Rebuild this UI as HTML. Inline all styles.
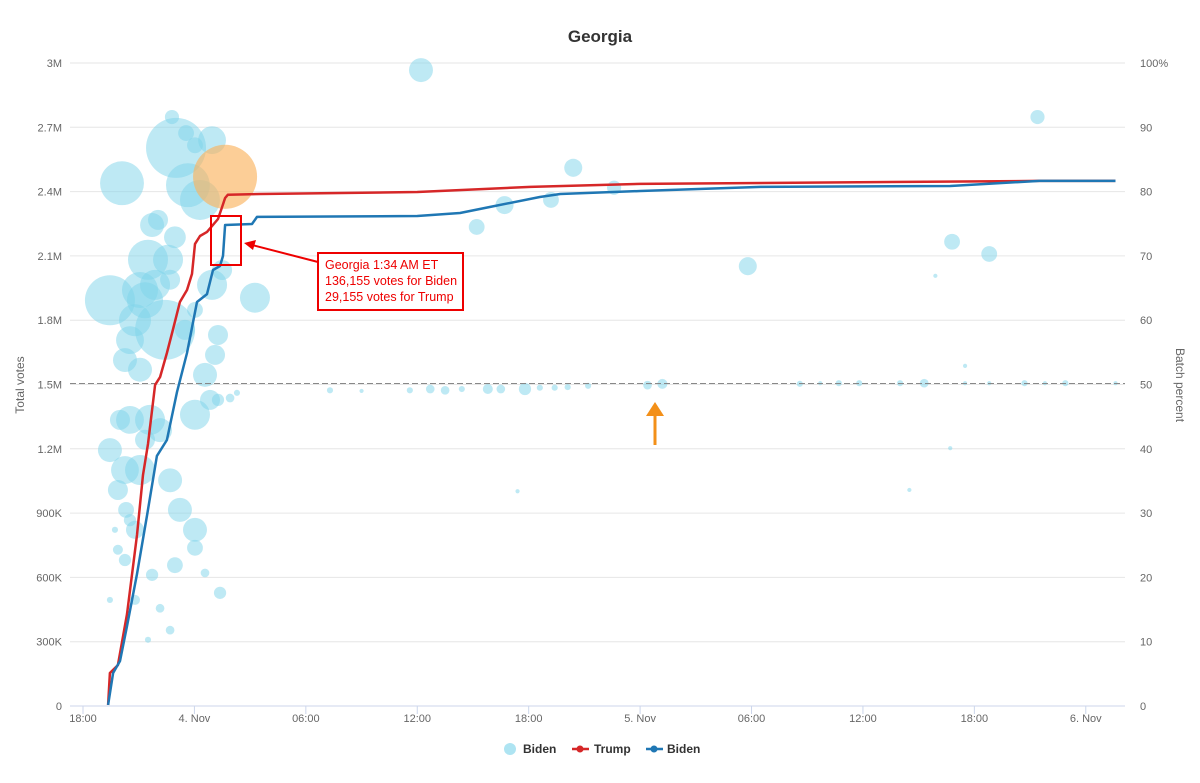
<!DOCTYPE html>
<html><head><meta charset="utf-8"><style>
body{margin:0;background:#fff;}
svg{display:block;font-family:"Liberation Sans",sans-serif;}
</style></head><body>
<svg id="chart" width="1200" height="783" viewBox="0 0 1200 783" xmlns="http://www.w3.org/2000/svg">
<rect width="1200" height="783" fill="#fff"/>
<text x="600" y="42" text-anchor="middle" font-size="17" font-weight="bold" fill="#333">Georgia</text>
<g id="grid"></g>
<g id="bubbles"></g>
<line x1="70" x2="1125" y1="383.5" y2="383.5" stroke="#888" stroke-dasharray="6,3" stroke-width="1"/>
<g id="lines"></g>
<g id="axes"></g>
<text transform="translate(24,385) rotate(-90)" text-anchor="middle" font-size="12" fill="#666">Total votes</text>
<text transform="translate(1176,385) rotate(90)" text-anchor="middle" font-size="12" fill="#666">Batch percent</text>
<rect x="211" y="216" width="30" height="49" fill="none" stroke="#e00" stroke-width="2"/>
<line x1="318" y1="262" x2="252" y2="245" stroke="#e00" stroke-width="2"/>
<polygon points="244,243 256,240 253,250" fill="#e00"/>
<rect x="318" y="253" width="145" height="57" fill="#fff" stroke="#e00" stroke-width="2"/>
<g font-size="12.5" fill="#e00">
<text x="325" y="269">Georgia 1:34 AM ET</text>
<text x="325" y="285">136,155 votes for Biden</text>
<text x="325" y="301">29,155 votes for Trump</text>
</g>
<line x1="655" y1="445" x2="655" y2="414" stroke="#f39019" stroke-width="3"/>
<polygon points="646,416 664,416 655,402" fill="#f39019"/>
<g font-size="12" font-weight="bold" fill="#333">
<circle cx="510" cy="749" r="6" fill="#aee4f2"/>
<text x="523" y="753">Biden</text>
<line x1="572" x2="589" y1="749" y2="749" stroke="#d62728" stroke-width="2.5"/>
<circle cx="580" cy="749" r="3.5" fill="#d62728"/>
<text x="594" y="753">Trump</text>
<line x1="646" x2="663" y1="749" y2="749" stroke="#1f77b4" stroke-width="2.5"/>
<circle cx="654" cy="749" r="3.5" fill="#1f77b4"/>
<text x="667" y="753">Biden</text>
</g>
</svg>
<script>
const yTicks=[0,300,600,900,1200,1500,1800,2100,2400,2700,3000];
const yTickLabels=["0","300K","600K","900K","1.2M","1.5M","1.8M","2.1M","2.4M","2.7M","3M"];
const y2TickLabels=["0","10","20","30","40","50","60","70","80","90","100%"];
const xTicks=[0,6,12,18,24,30,36,42,48,54];
const xTickLabels=["18:00","4. Nov","06:00","12:00","18:00","5. Nov","06:00","12:00","18:00","6. Nov"];
const trumpT=[1.35,1.45,1.88,2.37,2.91,3.23,3.5,3.88,4.15,4.52,4.85,5.22,5.6,5.87,6.03,6.3,6.68,7.27,7.49,7.65,7.8,9.53,18,24.1,30,51.5,55.6];
const trumpV=[5,154,191,429,798,1078,1223,1498,1535,1647,1759,1885,1941,2016,2156,2193,2212,2272,2328,2370,2385,2389,2398,2422,2436,2450,2450];
const bidenT=[1.35,1.62,1.99,2.37,2.91,3.45,3.98,4.52,5.06,5.6,6.14,6.68,7,7.38,7.54,7.65,9.1,9.37,18,20.3,21.9,24.6,25.7,30,36.5,46.7,51.5,55.6];
const bidenV=[5,154,210,373,616,891,1167,1241,1465,1647,1885,1922,2034,2053,2100,2244,2249,2282,2286,2300,2328,2375,2389,2403,2422,2426,2450,2450];
const bubT=[1.45,2.1,3.07,3.5,3.72,4.42,5.01,5.65,6.3,6.95,4.79,5.55,6.03,4.04,4.95,4.58,4.69,2.53,2.26,3.07,3.61,2.53,4.15,3.07,2.26,1.45,4.69,6.03,6.84,6.57,7.11,7.27,6.03,5.49,7.49,9.26,6.95,7.27,7.92,8.29,1.88,2.32,2.8,5.22,6.03,6.03,4.95,3.72,2.8,2.26,6.57,7.38,4.15,4.69,3.5,1.45,1.72,3.34,2.8,3.88,1.99,3.34,2.53,1.88,
13.3,15,17.6,18.7,19.5,20.4,21.8,22.5,23.8,24.6,25.4,26.1,27.2,30.4,31.2,38.6,39.7,40.7,41.8,44,45.3,47.5,48.8,50.7,51.8,52.9,55.6,
18.2,26.4,28.6,22.7,25.2,21.2,35.8,46.8,48.8,51.4,23.4,44.5,46.7,45.9,47.5];
const bubPct=[63.1,81.3,64.7,69.4,74.8,58.5,86.8,81,78.7,88,91.6,89.1,87.2,75.6,72.9,69.4,66.3,56.9,53.8,52.3,44.5,44.5,42.9,36.7,36.7,39.8,35.1,45.3,47.6,51.5,54.6,57.7,61.6,58.5,67.8,63.5,65.5,47.6,47.9,48.7,33.6,30.5,27.4,30.5,27.4,24.6,21.9,20.4,16.5,22.7,20.7,17.6,15.2,11.8,10.3,16.5,27.4,63.1,60,65.5,44.5,41.4,28.9,24.3,
49.1,49,49.1,49.3,49.1,49.3,49.3,49.3,49.3,49.5,49.5,49.6,49.8,49.9,50.1,50.1,50.2,50.2,50.2,50.2,50.2,50.2,50.2,50.2,50.2,50.2,50.2,
98.9,83.7,80.6,77.9,78.7,74.5,68.4,72.2,70.3,91.6,33.4,33.6,40.1,66.9,52.9];
const bubSize=[100,77,52,64,23,144,144,77,64,31,8,10,10,16,19,36,16,31,23,23,36,31,23,36,31,23,23,36,16,23,16,16,10,16,16,36,36,6,3,1.5,16,10,13,23,23,10,10,6,4,6,3,6,3,3,1.5,1.5,1.5,52,41,36,16,16,6,4,
1.5,0.7,1.5,3,3,1.5,4,3,6,1.5,1.5,1.5,1.5,3,4,1.5,0.7,1.5,1.5,1.5,3,0.7,0.7,1.5,0.7,1.5,0.7,
23,13,8,13,10,10,13,10,10,8,0.7,0.7,0.7,0.7,0.7];
const highlightT=[7.65], highlightPct=[82.3], highlightSize=[164];

const NS="http://www.w3.org/2000/svg";
const X0=70,X1=1125,Y0=706,Y1=63;
const xs=h=>83+h*18.57;
const ys=v=>Y0-(v/3000)*(Y0-Y1);
const yp=p=>Y0-(p/100)*(Y0-Y1);
const rs=z=>2.5*Math.sqrt(z);
function mk(tag,attrs,parent){const e=document.createElementNS(NS,tag);for(const k in attrs)e.setAttribute(k,attrs[k]);parent.appendChild(e);return e;}
const grid=document.getElementById('grid'),axes=document.getElementById('axes');
yTicks.forEach((v,i)=>{
  const y=ys(v);
  const l=mk('line',{x1:X0,x2:X1,y1:y,y2:y,stroke:i==0?'#ccd6eb':'#e6e6e6','stroke-width':1},grid);
  
  
  const t=mk('text',{x:62,y:y+4,'text-anchor':'end','font-size':11,fill:'#666'},axes);
  t.textContent=yTickLabels[i];
  
  
  const t2=mk('text',{x:1140,y:y+4,'text-anchor':'start','font-size':11,fill:'#666'},axes);
  t2.textContent=y2TickLabels[i];
  
  
});
xTicks.forEach((h,i)=>{
  const x=xs(h);
  const tk=mk('line',{x1:x,x2:x,y1:Y0,y2:Y0+8,stroke:'#ccd6eb'},axes);
  
  
  const t=mk('text',{x:x,y:722,'text-anchor':'middle','font-size':11,fill:'#666'},axes);
  t.textContent=xTickLabels[i];
  
  
});
const bg=document.getElementById('bubbles');
bubT.forEach((h,i)=>{
  const c=mk('circle',{cx:xs(h),cy:yp(bubPct[i]),r:rs(bubSize[i]),fill:'#7dd3ea','fill-opacity':0.5},bg);
  
  
});
highlightT.forEach((h,i)=>{
  const c=mk('circle',{cx:xs(h),cy:yp(highlightPct[i]),r:rs(highlightSize[i]),fill:'#fbb35f','fill-opacity':0.65},bg);
  
  
});
const lg=document.getElementById('lines');
function linePath(T,V){return T.map((h,i)=>(i?'L':'M')+xs(h).toFixed(1)+','+ys(V[i]).toFixed(1)).join('');}
const pt=mk('path',{d:linePath(trumpT,trumpV),fill:'none',stroke:'#d62728','stroke-width':2.5,'stroke-linejoin':'round'},lg);


const pb=mk('path',{d:linePath(bidenT,bidenV),fill:'none',stroke:'#1f77b4','stroke-width':2.5,'stroke-linejoin':'round'},lg);


</script>
</body></html>
